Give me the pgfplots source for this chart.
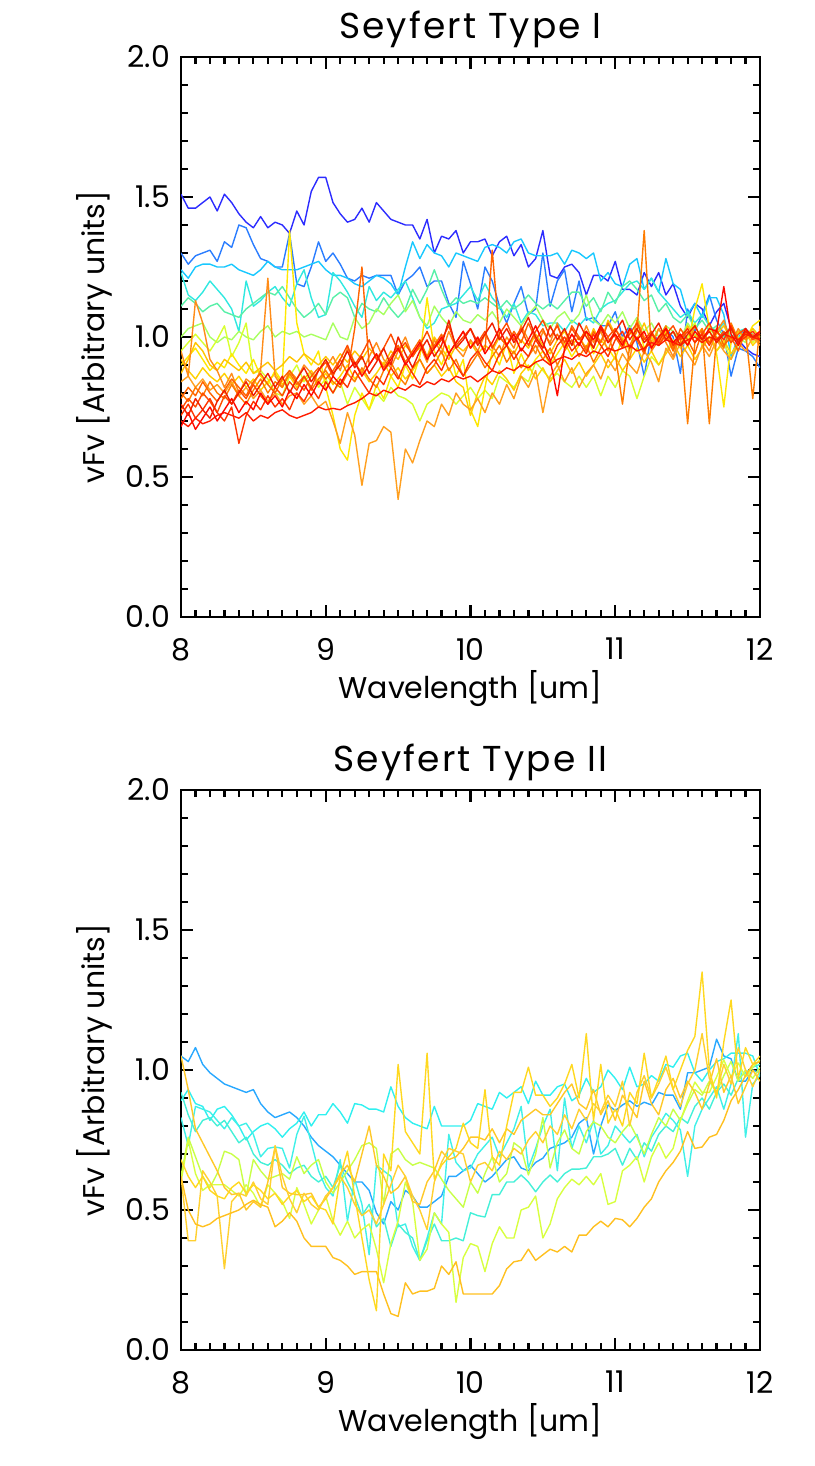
\documentclass[border=0pt]{standalone}
\usepackage{fontspec}
\setmainfont{Poppins}
\newfontfamily\titlefont[LetterSpace=6]{Poppins}
\usepackage{pgfplots}
\pgfplotsset{compat=1.18}
\definecolor{ta}{HTML}{2C2CFF}
\definecolor{tb}{HTML}{2A7DFF}
\definecolor{tc}{HTML}{18C8FF}
\definecolor{td}{HTML}{30E8E0}
\definecolor{te}{HTML}{58F0A8}
\definecolor{tf}{HTML}{A8FF60}
\definecolor{tg}{HTML}{D8FF30}
\definecolor{th}{HTML}{FFE800}
\definecolor{ti}{HTML}{FFC400}
\definecolor{tj}{HTML}{FFA020}
\definecolor{tk}{HTML}{FF8C18}
\definecolor{tl}{HTML}{FF7C00}
\definecolor{tm}{HTML}{FF6400}
\definecolor{tn}{HTML}{FF4C00}
\definecolor{to}{HTML}{FF3400}
\definecolor{tp}{HTML}{FF1C00}
\definecolor{tq}{HTML}{FF0800}
\definecolor{tr}{HTML}{F02000}
\definecolor{ts}{HTML}{FFD000}
\definecolor{ba}{HTML}{28A8FF}
\definecolor{bb}{HTML}{30F0F0}
\definecolor{bc}{HTML}{40F0E8}
\definecolor{bd}{HTML}{44F0D8}
\definecolor{be}{HTML}{C8FF48}
\definecolor{bf}{HTML}{D8FF40}
\definecolor{ga}{HTML}{FFC828}
\definecolor{gb}{HTML}{FFD030}
\definecolor{gc}{HTML}{FFC020}
\definecolor{gd}{HTML}{FFD820}
\pgfplotsset{seyf/.style={
  scale only axis, width=289.5pt, height=280pt,
  xmin=8, xmax=12, ymin=0, ymax=2,
  xtick={8,9,10,11,12}, ytick={0,0.5,1,1.5,2},
  yticklabels={0.0,0.5,1.0,1.5,2.0},
  minor x tick num=9, minor y tick num=4,
  tick align=inside,
  major tick length=6pt, minor tick length=3.5pt,
  every tick/.style={black, line width=1.1pt},
  axis line style={line width=1.3pt},
  /pgf/number format/assume math mode=true,
  tick label style={font=\fontsize{15}{17}\selectfont},
  xticklabel style={yshift=-7pt},
  yticklabel style={xshift=-2pt},
  label style={font=\fontsize{15}{17}\selectfont},
  xlabel style={yshift=2pt},
  title style={font=\titlefont\fontsize{18}{20}\selectfont, yshift=-5pt},
  xlabel={Wavelength [um]},
  ylabel={vFv [Arbitrary units]},
  every axis plot/.append style={line width=0.7pt, line join=round},
  anchor=south west,
}}
\begin{document}
\begin{tikzpicture}
\path[use as bounding box] (0,0) rectangle (407pt,733pt);
\begin{axis}[seyf, at={(90.5pt,424.5pt)}, title={Seyfert Type I}]
\addplot[ta] coordinates {(8,1.51)(8.05,1.46)(8.1,1.46)(8.15,1.48)(8.2,1.50)(8.25,1.45)(8.3,1.51)(8.35,1.48)(8.4,1.44)(8.45,1.41)
(8.5,1.39)(8.55,1.43)(8.6,1.39)(8.65,1.41)(8.7,1.40)(8.75,1.37)(8.8,1.45)(8.85,1.40)(8.9,1.52)(8.95,1.57)
(9,1.57)(9.05,1.48)(9.1,1.44)(9.15,1.41)(9.2,1.42)(9.25,1.46)(9.3,1.41)(9.35,1.48)(9.4,1.45)(9.45,1.42)
(9.5,1.41)(9.55,1.40)(9.6,1.40)(9.65,1.35)(9.7,1.42)(9.75,1.30)(9.8,1.36)(9.85,1.35)(9.9,1.38)(9.95,1.30)
(10,1.34)(10.05,1.34)(10.1,1.35)(10.15,1.29)(10.2,1.34)(10.25,1.36)(10.3,1.29)(10.35,1.33)(10.4,1.25)(10.45,1.28)
(10.5,1.38)(10.55,1.22)(10.6,1.21)(10.65,1.25)(10.7,1.26)(10.75,1.23)(10.8,1.15)(10.85,1.22)(10.9,1.22)(10.95,1.20)
(11,1.27)(11.05,1.17)(11.1,1.17)(11.15,1.15)(11.2,1.23)(11.25,1.18)(11.3,1.23)(11.35,1.15)(11.4,1.19)(11.45,1.11)
(11.5,1.07)(11.55,1.12)(11.6,1.10)(11.65,1.04)(11.7,1.09)(11.75,1.12)(11.8,1.03)(11.85,0.99)(11.9,0.96)(11.95,0.94)(12,0.93)};
\addplot[tb] coordinates {(8,1.30)(8.05,1.26)(8.1,1.29)(8.15,1.30)(8.2,1.31)(8.25,1.27)(8.3,1.34)(8.35,1.32)(8.4,1.40)(8.45,1.39)
(8.5,1.33)(8.55,1.28)(8.6,1.27)(8.65,1.25)(8.7,1.25)(8.75,1.37)(8.8,1.19)(8.85,1.18)(8.9,1.25)(8.95,1.34)
(9,1.27)(9.05,1.30)(9.1,1.26)(9.15,1.21)(9.2,1.20)(9.25,1.22)(9.3,1.21)(9.35,1.22)(9.4,1.22)(9.45,1.22)
(9.5,1.15)(9.55,1.20)(9.6,1.22)(9.65,1.25)(9.7,1.18)(9.75,1.20)(9.8,1.20)(9.85,1.12)(9.9,1.07)(9.95,1.27)
(10,1.19)(10.05,1.10)(10.1,1.25)(10.15,1.20)(10.2,1.11)(10.25,1.05)(10.3,1.12)(10.35,1.18)(10.4,1.08)(10.45,1.10)
(10.5,1.30)(10.55,1.11)(10.6,1.20)(10.65,1.24)(10.7,1.09)(10.75,1.20)(10.8,1.06)(10.85,1.07)(10.9,1.04)(10.95,1.04)
(11,1.09)(11.05,1.00)(11.1,1.04)(11.15,0.98)(11.2,0.86)(11.25,1.01)(11.3,0.99)(11.35,1.03)(11.4,1.00)(11.45,0.87)
(11.5,1.10)(11.55,1.02)(11.6,1.08)(11.65,1.15)(11.7,1.06)(11.75,1.01)(11.8,0.86)(11.85,0.96)(11.9,0.95)(11.95,0.93)(12,0.89)};
\addplot[tc] coordinates {(8,1.24)(8.05,1.21)(8.1,1.25)(8.15,1.26)(8.2,1.26)(8.25,1.25)(8.3,1.25)(8.35,1.26)(8.4,1.24)(8.45,1.23)
(8.5,1.22)(8.55,1.24)(8.6,1.27)(8.65,1.25)(8.7,1.24)(8.75,1.24)(8.8,1.24)(8.85,1.25)(8.9,1.26)(8.95,1.27)
(9,1.24)(9.05,1.22)(9.1,1.22)(9.15,1.21)(9.2,1.19)(9.25,1.18)(9.3,1.20)(9.35,1.22)(9.4,1.21)(9.45,1.19)
(9.5,1.15)(9.55,1.25)(9.6,1.34)(9.65,1.28)(9.7,1.33)(9.75,1.30)(9.8,1.29)(9.85,1.25)(9.9,1.30)(9.95,1.29)
(10,1.28)(10.05,1.27)(10.1,1.32)(10.15,1.33)(10.2,1.32)(10.25,1.30)(10.3,1.34)(10.35,1.35)(10.4,1.30)(10.45,1.29)
(10.5,1.29)(10.55,1.29)(10.6,1.30)(10.65,1.26)(10.7,1.31)(10.75,1.30)(10.8,1.28)(10.85,1.30)(10.9,1.20)(10.95,1.23)
(11,1.19)(11.05,1.18)(11.1,1.26)(11.15,1.28)(11.2,1.17)(11.25,1.21)(11.3,1.16)(11.35,1.28)(11.4,1.19)(11.45,1.17)
(11.5,1.08)(11.55,1.12)(11.6,1.07)(11.65,1.14)(11.7,1.14)(11.75,1.08)(11.8,0.93)(11.85,1.00)(11.9,1.03)(11.95,1.00)(12,0.98)};
\addplot[td] coordinates {(8,1.23)(8.05,1.15)(8.1,1.13)(8.15,1.16)(8.2,1.20)(8.25,1.17)(8.3,1.14)(8.35,1.10)(8.4,1.02)(8.45,1.20)
(8.5,1.11)(8.55,1.13)(8.6,1.16)(8.65,1.18)(8.7,1.14)(8.75,1.11)(8.8,1.19)(8.85,1.24)(8.9,1.14)(8.95,1.07)
(9,1.08)(9.05,1.23)(9.1,1.20)(9.15,1.16)(9.2,1.11)(9.25,1.07)(9.3,1.18)(9.35,1.13)(9.4,1.16)(9.45,1.14)
(9.5,1.17)(9.55,1.20)(9.6,1.14)(9.65,1.07)(9.7,1.03)(9.75,1.05)(9.8,1.10)(9.85,1.11)(9.9,1.12)(9.95,1.15)
(10,1.18)(10.05,1.13)(10.1,1.19)(10.15,1.14)(10.2,1.11)(10.25,1.07)(10.3,1.12)(10.35,1.05)(10.4,1.09)(10.45,1.08)
(10.5,1.04)(10.55,1.05)(10.6,1.05)(10.65,1.02)(10.7,1.06)(10.75,1.04)(10.8,1.07)(10.85,1.05)(10.9,1.10)(10.95,1.12)
(11,1.13)(11.05,1.16)(11.1,1.19)(11.15,1.20)(11.2,1.17)(11.25,1.21)(11.3,1.16)(11.35,1.13)(11.4,1.10)(11.45,1.07)
(11.5,1.09)(11.55,1.05)(11.6,1.08)(11.65,1.04)(11.7,1.02)(11.75,1.05)(11.8,1.00)(11.85,1.02)(11.9,1.03)(11.95,1.00)(12,1.00)};
\addplot[te] coordinates {(8,1.11)(8.05,1.14)(8.1,1.12)(8.15,1.09)(8.2,1.11)(8.25,1.12)(8.3,1.09)(8.35,1.08)(8.4,1.07)(8.45,1.10)
(8.5,1.12)(8.55,1.14)(8.6,1.16)(8.65,1.15)(8.7,1.18)(8.75,1.14)(8.8,1.10)(8.85,1.07)(8.9,1.09)(8.95,1.12)
(9,1.08)(9.05,1.14)(9.1,1.16)(9.15,1.14)(9.2,1.07)(9.25,1.12)(9.3,1.10)(9.35,1.09)(9.4,1.14)(9.45,1.10)
(9.5,1.07)(9.55,1.10)(9.6,1.17)(9.65,1.12)(9.7,1.17)(9.75,1.24)(9.8,1.17)(9.85,1.11)(9.9,1.14)(9.95,1.12)
(10,1.13)(10.05,1.12)(10.1,1.14)(10.15,1.12)(10.2,1.10)(10.25,1.13)(10.3,1.10)(10.35,1.12)(10.4,1.15)(10.45,1.12)
(10.5,1.10)(10.55,1.12)(10.6,1.10)(10.65,1.13)(10.7,1.16)(10.75,1.16)(10.8,1.11)(10.85,1.14)(10.9,1.09)(10.95,1.16)
(11,1.12)(11.05,1.18)(11.1,1.20)(11.15,1.17)(11.2,1.13)(11.25,1.15)(11.3,1.09)(11.35,1.12)(11.4,1.07)(11.45,1.05)
(11.5,1.08)(11.55,1.03)(11.6,1.06)(11.65,1.02)(11.7,1.04)(11.75,1.00)(11.8,1.03)(11.85,0.99)(11.9,1.02)(11.95,1.01)(12,0.99)};
\addplot[tf] coordinates {(8,1.00)(8.05,1.03)(8.1,1.04)(8.15,1.05)(8.2,1.00)(8.25,0.98)(8.3,1.00)(8.35,0.99)(8.4,1.02)(8.45,1.00)
(8.5,0.99)(8.55,1.02)(8.6,1.04)(8.65,1.00)(8.7,1.02)(8.75,1.01)(8.8,1.02)(8.85,1.00)(8.9,1.01)(8.95,1.00)
(9,0.99)(9.05,1.05)(9.1,1.00)(9.15,0.99)(9.2,1.07)(9.25,1.03)(9.3,1.05)(9.35,1.10)(9.4,1.08)(9.45,1.12)
(9.5,1.15)(9.55,1.09)(9.6,1.13)(9.65,1.07)(9.7,1.04)(9.75,1.11)(9.8,1.07)(9.85,1.04)(9.9,1.09)(9.95,1.06)
(10,1.05)(10.05,1.08)(10.1,1.06)(10.15,1.09)(10.2,1.05)(10.25,1.10)(10.3,1.07)(10.35,1.04)(10.4,1.08)(10.45,1.11)
(10.5,1.06)(10.55,1.03)(10.6,1.07)(10.65,1.09)(10.7,1.05)(10.75,1.08)(10.8,1.15)(10.85,1.06)(10.9,1.04)(10.95,1.08)
(11,1.05)(11.05,1.09)(11.1,1.03)(11.15,1.07)(11.2,1.02)(11.25,1.05)(11.3,1.00)(11.35,1.04)(11.4,1.02)(11.45,0.99)
(11.5,1.05)(11.55,1.01)(11.6,0.98)(11.65,1.03)(11.7,1.00)(11.75,0.97)(11.8,1.02)(11.85,1.00)(11.9,0.98)(11.95,1.03)(12,1.00)};
\addplot[tg] coordinates {(8,0.95)(8.05,0.98)(8.1,1.01)(8.15,0.98)(8.2,0.95)(8.25,0.99)(8.3,1.04)(8.35,0.93)(8.4,0.98)(8.45,1.05)
(8.5,0.87)(8.55,0.88)(8.6,0.85)(8.65,0.80)(8.7,0.79)(8.75,0.86)(8.8,0.90)(8.85,0.84)(8.9,0.87)(8.95,0.82)
(9,0.85)(9.05,0.80)(9.1,0.84)(9.15,0.76)(9.2,0.82)(9.25,0.78)(9.3,0.74)(9.35,0.80)(9.4,0.77)(9.45,0.82)
(9.5,0.79)(9.55,0.78)(9.6,0.76)(9.65,0.70)(9.7,0.76)(9.75,0.78)(9.8,0.80)(9.85,0.79)(9.9,0.76)(9.95,0.79)
(10,0.82)(10.05,0.78)(10.1,0.81)(10.15,0.78)(10.2,0.86)(10.25,0.84)(10.3,0.82)(10.35,0.86)(10.4,0.84)(10.45,0.91)
(10.5,0.88)(10.55,0.85)(10.6,0.87)(10.65,0.84)(10.7,0.82)(10.75,0.86)(10.8,0.82)(10.85,0.86)(10.9,0.79)(10.95,0.86)
(11,0.82)(11.05,0.88)(11.1,0.86)(11.15,0.78)(11.2,0.86)(11.25,0.93)(11.3,0.90)(11.35,0.95)(11.4,0.99)(11.45,0.96)
(11.5,1.00)(11.55,1.05)(11.6,0.97)(11.65,1.00)(11.7,0.95)(11.75,0.98)(11.8,0.92)(11.85,0.97)(11.9,1.01)(11.95,0.98)(12,1.01)};
\addplot[th] coordinates {(8,0.90)(8.05,0.93)(8.1,0.96)(8.15,0.92)(8.2,0.88)(8.25,0.91)(8.3,0.89)(8.35,0.94)(8.4,0.90)(8.45,0.87)
(8.5,0.92)(8.55,0.86)(8.6,0.83)(8.65,0.88)(8.7,0.84)(8.75,1.38)(8.8,1.05)(8.85,0.94)(8.9,0.90)(8.95,0.95)
(9,0.82)(9.05,0.72)(9.1,0.60)(9.15,0.56)(9.2,0.72)(9.25,0.80)(9.3,0.74)(9.35,0.83)(9.4,0.78)(9.45,0.86)
(9.5,0.82)(9.55,0.90)(9.6,0.85)(9.65,0.93)(9.7,1.14)(9.75,0.95)(9.8,0.90)(9.85,0.97)(9.9,0.86)(9.95,0.92)
(10,0.74)(10.05,0.68)(10.1,0.82)(10.15,0.95)(10.2,0.90)(10.25,0.98)(10.3,0.87)(10.35,0.94)(10.4,0.88)(10.45,0.92)
(10.5,0.95)(10.55,0.90)(10.6,0.94)(10.65,0.98)(10.7,0.93)(10.75,0.97)(10.8,1.02)(10.85,0.94)(10.9,0.99)(10.95,0.96)
(11,0.92)(11.05,1.00)(11.1,0.95)(11.15,1.06)(11.2,0.96)(11.25,1.00)(11.3,0.97)(11.35,1.02)(11.4,0.95)(11.45,1.00)
(11.5,0.97)(11.55,1.10)(11.6,1.19)(11.65,1.03)(11.7,0.94)(11.75,0.75)(11.8,0.98)(11.85,1.02)(11.9,0.99)(11.95,1.04)(12,1.06)};
\addplot[ts] coordinates {(8,0.92)(8.05,0.88)(8.1,0.85)(8.15,0.89)(8.2,0.86)(8.25,0.84)(8.3,0.87)(8.35,0.83)(8.4,0.86)(8.45,0.82)
(8.5,0.85)(8.55,0.81)(8.6,0.84)(8.65,0.87)(8.7,0.83)(8.75,0.86)(8.8,0.82)(8.85,0.85)(8.9,0.88)(8.95,0.84)
(9,0.87)(9.05,0.83)(9.1,0.86)(9.15,0.90)(9.2,0.85)(9.25,0.88)(9.3,0.84)(9.35,0.87)(9.4,0.91)(9.45,0.86)
(9.5,0.89)(9.55,0.85)(9.6,0.88)(9.65,0.92)(9.7,0.87)(9.75,0.90)(9.8,0.86)(9.85,0.89)(9.9,0.84)(9.95,0.82)
(10,0.72)(10.05,0.80)(10.1,0.86)(10.15,0.83)(10.2,0.88)(10.25,0.85)(10.3,0.81)(10.35,0.87)(10.4,0.90)(10.45,0.85)
(10.5,0.89)(10.55,0.84)(10.6,0.88)(10.65,0.92)(10.7,0.87)(10.75,0.91)(10.8,0.86)(10.85,0.90)(10.9,0.94)(10.95,0.89)
(11,0.93)(11.05,0.88)(11.1,0.92)(11.15,0.96)(11.2,0.91)(11.25,0.95)(11.3,0.90)(11.35,0.94)(11.4,0.98)(11.45,0.93)
(11.5,0.97)(11.55,0.92)(11.6,0.96)(11.65,1.00)(11.7,0.95)(11.75,0.99)(11.8,0.94)(11.85,0.98)(11.9,1.02)(11.95,0.97)(12,1.00)};
\addplot[ti] coordinates {(8,0.87)(8.05,0.92)(8.1,0.98)(8.15,0.95)(8.2,0.90)(8.25,0.88)(8.3,0.92)(8.35,0.90)(8.4,0.88)(8.45,0.91)
(8.5,0.87)(8.55,0.89)(8.6,0.91)(8.65,0.88)(8.7,0.90)(8.75,0.93)(8.8,0.91)(8.85,0.94)(8.9,0.92)(8.95,0.90)
(9,0.93)(9.05,0.90)(9.1,0.94)(9.15,0.91)(9.2,0.95)(9.25,0.92)(9.3,0.96)(9.35,0.93)(9.4,0.90)(9.45,0.95)
(9.5,0.92)(9.55,0.97)(9.6,0.94)(9.65,0.96)(9.7,0.93)(9.75,1.00)(9.8,0.96)(9.85,0.92)(9.9,0.97)(9.95,0.95)
(10,0.98)(10.05,0.94)(10.1,0.97)(10.15,0.95)(10.2,1.00)(10.25,0.97)(10.3,0.94)(10.35,0.99)(10.4,0.96)(10.45,1.01)
(10.5,0.97)(10.55,0.94)(10.6,0.99)(10.65,1.02)(10.7,0.97)(10.75,1.00)(10.8,0.96)(10.85,1.03)(10.9,0.98)(10.95,1.06)
(11,1.01)(11.05,0.97)(11.1,1.02)(11.15,0.99)(11.2,1.05)(11.25,0.98)(11.3,1.03)(11.35,0.99)(11.4,1.02)(11.45,0.97)
(11.5,1.04)(11.55,1.00)(11.6,1.03)(11.65,0.98)(11.7,1.01)(11.75,1.04)(11.8,0.99)(11.85,1.02)(11.9,1.00)(11.95,1.03)(12,1.00)};
\addplot[tj] coordinates {(8,0.84)(8.05,0.86)(8.1,0.82)(8.15,0.85)(8.2,0.81)(8.25,0.83)(8.3,0.80)(8.35,0.84)(8.4,0.79)(8.45,0.82)
(8.5,0.78)(8.55,0.81)(8.6,0.77)(8.65,0.80)(8.7,0.76)(8.75,0.79)(8.8,0.80)(8.85,0.76)(8.9,0.79)(8.95,0.75)
(9,0.77)(9.05,0.70)(9.1,0.62)(9.15,0.73)(9.2,0.65)(9.25,0.47)(9.3,0.62)(9.35,0.63)(9.4,0.68)(9.45,0.66)
(9.5,0.42)(9.55,0.60)(9.6,0.55)(9.65,0.63)(9.7,0.70)(9.75,0.68)(9.8,0.76)(9.85,0.72)(9.9,0.80)(9.95,0.76)
(10,0.74)(10.05,0.78)(10.1,0.73)(10.15,0.80)(10.2,0.76)(10.25,0.83)(10.3,0.78)(10.35,0.86)(10.4,0.82)(10.45,0.88)
(10.5,0.73)(10.55,0.86)(10.6,0.90)(10.65,0.84)(10.7,0.89)(10.75,0.82)(10.8,0.87)(10.85,0.90)(10.9,0.85)(10.95,0.92)
(11,0.88)(11.05,0.94)(11.1,0.90)(11.15,0.87)(11.2,0.95)(11.25,0.91)(11.3,0.84)(11.35,0.96)(11.4,0.92)(11.45,0.98)
(11.5,0.94)(11.55,0.90)(11.6,0.97)(11.65,0.93)(11.7,0.99)(11.75,0.95)(11.8,0.92)(11.85,0.98)(11.9,0.95)(11.95,1.00)(12,0.97)};
\addplot[tk] coordinates {(8,0.95)(8.05,0.86)(8.1,1.13)(8.15,1.05)(8.2,0.92)(8.25,0.88)(8.3,0.82)(8.35,0.87)(8.4,0.80)(8.45,0.85)
(8.5,0.83)(8.55,0.88)(8.6,1.21)(8.65,0.86)(8.7,0.82)(8.75,0.88)(8.8,0.85)(8.85,0.90)(8.9,0.87)(8.95,0.83)
(9,0.89)(9.05,0.93)(9.1,0.88)(9.15,0.96)(9.2,0.91)(9.25,0.87)(9.3,0.93)(9.35,0.98)(9.4,0.92)(9.45,0.89)
(9.5,0.95)(9.55,1.00)(9.6,0.93)(9.65,0.97)(9.7,0.91)(9.75,0.99)(9.8,0.94)(9.85,1.02)(9.9,0.96)(9.95,0.93)
(10,0.99)(10.05,0.95)(10.1,1.01)(10.15,0.97)(10.2,0.93)(10.25,1.00)(10.3,0.96)(10.35,1.04)(10.4,0.99)(10.45,0.94)
(10.5,1.02)(10.55,0.98)(10.6,1.05)(10.65,0.96)(10.7,1.01)(10.75,0.97)(10.8,1.04)(10.85,0.98)(10.9,1.02)(10.95,0.95)
(11,1.03)(11.05,0.99)(11.1,0.92)(11.15,1.06)(11.2,1.00)(11.25,0.96)(11.3,1.03)(11.35,0.98)(11.4,0.93)(11.45,1.01)
(11.5,0.97)(11.55,1.04)(11.6,0.99)(11.65,0.95)(11.7,1.02)(11.75,1.06)(11.8,0.98)(11.85,1.03)(11.9,0.99)(11.95,1.01)(12,0.98)};
\addplot[tl] coordinates {(8,0.80)(8.05,0.77)(8.1,0.82)(8.15,0.79)(8.2,0.84)(8.25,0.80)(8.3,0.78)(8.35,0.83)(8.4,0.79)(8.45,0.76)
(8.5,0.81)(8.55,0.85)(8.6,0.80)(8.65,0.84)(8.7,0.82)(8.75,0.87)(8.8,0.83)(8.85,0.86)(8.9,0.81)(8.95,0.85)
(9,0.88)(9.05,0.84)(9.1,0.82)(9.15,0.87)(9.2,0.84)(9.25,0.89)(9.3,0.85)(9.35,0.82)(9.4,0.88)(9.45,0.91)
(9.5,0.86)(9.55,0.83)(9.6,0.89)(9.65,0.92)(9.7,0.87)(9.75,0.90)(9.8,0.95)(9.85,0.88)(9.9,0.92)(9.95,0.86)
(10,0.90)(10.05,0.94)(10.1,0.89)(10.15,0.93)(10.2,0.97)(10.25,0.91)(10.3,0.95)(10.35,0.89)(10.4,0.93)(10.45,0.97)
(10.5,0.92)(10.55,0.96)(10.6,0.90)(10.65,0.95)(10.7,0.99)(10.75,0.93)(10.8,0.97)(10.85,0.91)(10.9,0.96)(10.95,1.00)
(11,0.94)(11.05,0.76)(11.1,0.97)(11.15,1.02)(11.2,1.38)(11.25,0.95)(11.3,0.99)(11.35,1.04)(11.4,0.96)(11.45,1.00)
(11.5,0.69)(11.55,0.98)(11.6,1.03)(11.65,0.69)(11.7,1.00)(11.75,0.96)(11.8,1.05)(11.85,0.99)(11.9,1.02)(11.95,0.78)(12,1.04)};
\addplot[tm] coordinates {(8,0.78)(8.05,0.82)(8.1,0.79)(8.15,0.84)(8.2,0.80)(8.25,0.77)(8.3,0.81)(8.35,0.85)(8.4,0.82)(8.45,0.79)
(8.5,0.84)(8.55,0.87)(8.6,0.83)(8.65,0.80)(8.7,0.85)(8.75,0.88)(8.8,0.84)(8.85,0.81)(8.9,0.86)(8.95,0.89)
(9,0.85)(9.05,0.88)(9.1,0.92)(9.15,0.87)(9.2,1.03)(9.25,1.25)(9.3,0.90)(9.35,0.94)(9.4,0.89)(9.45,0.93)
(9.5,0.97)(9.55,0.91)(9.6,0.95)(9.65,0.99)(9.7,0.93)(9.75,0.97)(9.8,1.01)(9.85,0.94)(9.9,0.98)(9.95,1.02)
(10,0.96)(10.05,0.99)(10.1,0.95)(10.15,1.31)(10.2,1.00)(10.25,0.97)(10.3,1.02)(10.35,0.98)(10.4,1.05)(10.45,0.99)
(10.5,1.03)(10.55,0.97)(10.6,1.01)(10.65,0.96)(10.7,1.04)(10.75,1.00)(10.8,0.95)(10.85,1.02)(10.9,0.98)(10.95,1.05)
(11,1.00)(11.05,0.96)(11.1,1.03)(11.15,0.99)(11.2,0.94)(11.25,1.02)(11.3,0.97)(11.35,1.01)(11.4,0.95)(11.45,1.03)
(11.5,0.99)(11.55,0.94)(11.6,1.02)(11.65,0.98)(11.7,1.03)(11.75,0.97)(11.8,1.00)(11.85,0.95)(11.9,1.02)(11.95,0.99)(12,1.01)};
\addplot[tn] coordinates {(8,0.74)(8.05,0.78)(8.1,0.75)(8.15,0.80)(8.2,0.77)(8.25,0.73)(8.3,0.79)(8.35,0.76)(8.4,0.81)(8.45,0.78)
(8.5,0.83)(8.55,0.79)(8.6,0.76)(8.65,0.82)(8.7,0.79)(8.75,0.84)(8.8,0.81)(8.85,0.86)(8.9,0.82)(8.95,0.88)
(9,0.91)(9.05,0.86)(9.1,0.92)(9.15,0.97)(9.2,0.90)(9.25,0.94)(9.3,0.99)(9.35,0.92)(9.4,0.96)(9.45,1.01)
(9.5,0.95)(9.55,0.98)(9.6,0.93)(9.65,0.97)(9.7,1.02)(9.75,0.96)(9.8,0.99)(9.85,1.04)(9.9,0.97)(9.95,1.00)
(10,1.03)(10.05,0.98)(10.1,1.02)(10.15,0.96)(10.2,1.01)(10.25,1.05)(10.3,0.99)(10.35,1.03)(10.4,0.97)(10.45,1.02)
(10.5,1.06)(10.55,1.00)(10.6,1.04)(10.65,0.98)(10.7,1.03)(10.75,0.99)(10.8,1.02)(10.85,0.96)(10.9,1.04)(10.95,1.00)
(11,1.03)(11.05,0.98)(11.1,1.01)(11.15,1.05)(11.2,0.99)(11.25,1.02)(11.3,0.97)(11.35,1.01)(11.4,1.04)(11.45,0.99)
(11.5,1.02)(11.55,0.98)(11.6,1.01)(11.65,1.05)(11.7,0.99)(11.75,1.02)(11.8,0.98)(11.85,1.01)(11.9,1.03)(11.95,0.99)(12,1.02)};
\addplot[to] coordinates {(8,0.72)(8.05,0.76)(8.1,0.71)(8.15,0.74)(8.2,0.78)(8.25,0.73)(8.3,0.70)(8.35,0.75)(8.4,0.62)(8.45,0.72)
(8.5,0.77)(8.55,0.74)(8.6,0.79)(8.65,0.75)(8.7,0.78)(8.75,0.74)(8.8,0.80)(8.85,0.77)(8.9,0.82)(8.95,0.78)
(9,0.84)(9.05,0.80)(9.1,0.85)(9.15,0.82)(9.2,0.88)(9.25,0.84)(9.3,0.80)(9.35,0.86)(9.4,0.83)(9.45,0.89)
(9.5,0.85)(9.55,0.91)(9.6,0.87)(9.65,0.83)(9.7,0.89)(9.75,0.92)(9.8,0.88)(9.85,0.94)(9.9,0.90)(9.95,0.86)
(10,0.92)(10.05,0.95)(10.1,0.91)(10.15,0.88)(10.2,0.94)(10.25,0.97)(10.3,0.92)(10.35,0.96)(10.4,0.93)(10.45,0.99)
(10.5,0.95)(10.55,0.91)(10.6,0.97)(10.65,1.00)(10.7,0.95)(10.75,0.98)(10.8,0.94)(10.85,1.01)(10.9,0.97)(10.95,0.93)
(11,0.99)(11.05,1.02)(11.1,0.96)(11.15,1.00)(11.2,0.95)(11.25,1.01)(11.3,0.98)(11.35,1.03)(11.4,0.97)(11.45,1.00)
(11.5,1.03)(11.55,0.98)(11.6,1.01)(11.65,0.97)(11.7,1.02)(11.75,0.99)(11.8,1.04)(11.85,0.98)(11.9,1.00)(11.95,1.02)(12,0.99)};
\addplot[tp] coordinates {(8,0.70)(8.05,0.68)(8.1,0.71)(8.15,0.69)(8.2,0.70)(8.25,0.72)(8.3,0.73)(8.35,0.72)(8.4,0.71)(8.45,0.73)
(8.5,0.70)(8.55,0.72)(8.6,0.71)(8.65,0.73)(8.7,0.74)(8.75,0.72)(8.8,0.71)(8.85,0.72)(8.9,0.73)(8.95,0.75)
(9,0.74)(9.05,0.745)(9.1,0.74)(9.15,0.755)(9.2,0.765)(9.25,0.78)(9.3,0.80)(9.35,0.79)(9.4,0.81)(9.45,0.80)
(9.5,0.82)(9.55,0.81)(9.6,0.83)(9.65,0.82)(9.7,0.84)(9.75,0.83)(9.8,0.85)(9.85,0.84)(9.9,0.86)(9.95,0.85)
(10,0.86)(10.05,0.84)(10.1,0.86)(10.15,0.88)(10.2,0.87)(10.25,0.89)(10.3,0.88)(10.35,0.90)(10.4,0.89)(10.45,0.91)
(10.5,0.92)(10.55,0.90)(10.6,0.92)(10.65,0.93)(10.7,0.92)(10.75,0.94)(10.8,0.93)(10.85,0.95)(10.9,0.94)(10.95,0.96)
(11,0.95)(11.05,0.96)(11.1,0.97)(11.15,0.95)(11.2,0.96)(11.25,0.98)(11.3,0.97)(11.35,0.99)(11.4,0.98)(11.45,0.97)
(11.5,0.99)(11.55,1.00)(11.6,0.98)(11.65,1.00)(11.7,0.99)(11.75,1.01)(11.8,1.00)(11.85,0.99)(11.9,1.01)(11.95,1.00)(12,0.99)};
\addplot[tq] coordinates {(8,0.68)(8.05,0.73)(8.1,0.67)(8.15,0.71)(8.2,0.75)(8.25,0.70)(8.3,0.74)(8.35,0.78)(8.4,0.73)(8.45,0.77)
(8.5,0.74)(8.55,0.80)(8.6,0.76)(8.65,0.79)(8.7,0.75)(8.75,0.81)(8.8,0.78)(8.85,0.83)(8.9,0.79)(8.95,0.84)
(9,0.81)(9.05,0.86)(9.1,0.83)(9.15,0.88)(9.2,0.91)(9.25,0.86)(9.3,0.90)(9.35,0.94)(9.4,0.88)(9.45,0.92)
(9.5,0.96)(9.55,0.90)(9.6,0.94)(9.65,0.98)(9.7,0.92)(9.75,0.96)(9.8,1.00)(9.85,0.94)(9.9,0.98)(9.95,1.02)
(10,0.96)(10.05,1.00)(10.1,0.94)(10.15,0.98)(10.2,1.03)(10.25,0.97)(10.3,1.01)(10.35,0.95)(10.4,0.99)(10.45,1.04)
(10.5,0.98)(10.55,0.92)(10.6,0.79)(10.65,0.96)(10.7,1.01)(10.75,0.97)(10.8,1.02)(10.85,0.99)(10.9,1.04)(10.95,0.98)
(11,1.01)(11.05,0.97)(11.1,1.03)(11.15,0.99)(11.2,1.02)(11.25,0.96)(11.3,1.00)(11.35,1.03)(11.4,0.98)(11.45,1.01)
(11.5,0.97)(11.55,1.02)(11.6,0.99)(11.65,1.03)(11.7,1.02)(11.75,1.18)(11.8,1.01)(11.85,0.97)(11.9,1.03)(11.95,1.00)(12,1.02)};
\addplot[tr] coordinates {(8,0.76)(8.05,0.72)(8.1,0.78)(8.15,0.74)(8.2,0.71)(8.25,0.77)(8.3,0.81)(8.35,0.76)(8.4,0.80)(8.45,0.84)
(8.5,0.79)(8.55,0.83)(8.6,0.87)(8.65,0.82)(8.7,0.86)(8.75,0.80)(8.8,0.85)(8.85,0.89)(8.9,0.84)(8.95,0.88)
(9,0.92)(9.05,0.87)(9.1,0.90)(9.15,0.95)(9.2,0.89)(9.25,0.93)(9.3,0.87)(9.35,0.91)(9.4,0.96)(9.45,0.90)
(9.5,1.00)(9.55,0.94)(9.6,0.89)(9.65,0.95)(9.7,0.99)(9.75,0.93)(9.8,0.97)(9.85,1.06)(9.9,0.96)(9.95,0.99)
(10,1.03)(10.05,0.97)(10.1,1.01)(10.15,1.05)(10.2,0.99)(10.25,1.03)(10.3,0.98)(10.35,1.02)(10.4,1.07)(10.45,1.00)
(10.5,0.96)(10.55,1.04)(10.6,0.99)(10.65,1.03)(10.7,0.97)(10.75,1.05)(10.8,1.00)(10.85,0.96)(10.9,1.03)(10.95,0.98)
(11,1.02)(11.05,1.06)(11.1,0.99)(11.15,1.03)(11.2,0.98)(11.25,1.01)(11.3,1.05)(11.35,0.99)(11.4,1.02)(11.45,0.97)
(11.5,1.01)(11.55,1.04)(11.6,0.99)(11.65,1.02)(11.7,0.98)(11.75,1.01)(11.8,1.03)(11.85,0.98)(11.9,1.02)(11.95,1.00)(12,1.01)};
\end{axis}
\begin{axis}[seyf, at={(90.5pt,58pt)}, title={Seyfert Type II}]
\addplot[ba] coordinates {(8,1.05)(8.05,1.03)(8.1,1.08)(8.15,1.02)(8.2,0.99)(8.25,0.97)(8.3,0.95)(8.35,0.94)(8.4,0.93)(8.45,0.92)
(8.5,0.93)(8.55,0.88)(8.6,0.85)(8.65,0.83)(8.7,0.84)(8.75,0.85)(8.8,0.83)(8.85,0.80)(8.9,0.76)(8.95,0.73)
(9,0.71)(9.05,0.69)(9.1,0.66)(9.15,0.63)(9.2,0.60)(9.25,0.60)(9.3,0.57)(9.35,0.49)(9.4,0.45)(9.45,0.53)
(9.5,0.50)(9.55,0.57)(9.6,0.55)(9.65,0.51)(9.7,0.51)(9.75,0.53)(9.8,0.55)(9.85,0.62)(9.9,0.62)(9.95,0.64)
(10,0.66)(10.05,0.63)(10.1,0.60)(10.15,0.62)(10.2,0.65)(10.25,0.68)(10.3,0.69)(10.35,0.65)(10.4,0.64)(10.45,0.67)
(10.5,0.685)(10.55,0.72)(10.6,0.73)(10.65,0.74)(10.7,0.76)(10.75,0.81)(10.8,0.83)(10.85,0.70)(10.9,0.80)(10.95,0.875)
(11,0.855)(11.05,0.875)(11.1,0.89)(11.15,0.87)(11.2,0.885)(11.25,0.875)(11.3,0.92)(11.35,0.91)(11.4,0.91)(11.45,0.86)
(11.5,0.99)(11.55,0.99)(11.6,1.00)(11.65,1.01)(11.7,1.11)(11.75,1.05)(11.8,1.04)(11.85,0.96)(11.9,0.96)(11.95,1.00)(12,0.99)};
\addplot[bb] coordinates {(8,0.89)(8.05,0.93)(8.1,0.88)(8.15,0.87)(8.2,0.82)(8.25,0.86)(8.3,0.87)(8.35,0.84)(8.4,0.80)(8.45,0.75)
(8.5,0.78)(8.55,0.80)(8.6,0.81)(8.65,0.79)(8.7,0.76)(8.75,0.79)(8.8,0.81)(8.85,0.85)(8.9,0.80)(8.95,0.84)
(9,0.84)(9.05,0.88)(9.1,0.85)(9.15,0.81)(9.2,0.88)(9.25,0.875)(9.3,0.86)(9.35,0.86)(9.4,0.85)(9.45,0.94)
(9.5,0.87)(9.55,0.83)(9.6,0.81)(9.65,0.80)(9.7,0.79)(9.75,0.87)(9.8,0.80)(9.85,0.80)(9.9,0.80)(9.95,0.80)
(10,0.82)(10.05,0.88)(10.1,0.87)(10.15,0.86)(10.2,0.92)(10.25,0.90)(10.3,0.92)(10.35,0.94)(10.4,0.88)(10.45,0.96)
(10.5,0.91)(10.55,0.91)(10.6,0.94)(10.65,0.95)(10.7,0.89)(10.75,0.91)(10.8,0.97)(10.85,0.92)(10.9,0.94)(10.95,1.00)
(11,0.97)(11.05,0.93)(11.1,1.01)(11.15,0.94)(11.2,0.95)(11.25,0.98)(11.3,0.96)(11.35,1.02)(11.4,1.01)(11.45,1.05)
(11.5,1.06)(11.55,0.99)(11.6,0.96)(11.65,1.00)(11.7,1.03)(11.75,1.04)(11.8,1.06)(11.85,1.06)(11.9,1.06)(11.95,1.05)(12,0.98)};
\addplot[bc] coordinates {(8,0.83)(8.05,0.73)(8.1,0.87)(8.15,0.86)(8.2,0.85)(8.25,0.82)(8.3,0.79)(8.35,0.83)(8.4,0.80)(8.45,0.81)
(8.5,0.77)(8.55,0.69)(8.6,0.72)(8.65,0.725)(8.7,0.72)(8.75,0.65)(8.8,0.77)(8.85,0.835)(8.9,0.74)(8.95,0.64)
(9,0.58)(9.05,0.55)(9.1,0.68)(9.15,0.46)(9.2,0.61)(9.25,0.52)(9.3,0.34)(9.35,0.66)(9.4,0.64)(9.45,0.62)
(9.5,0.44)(9.55,0.45)(9.6,0.37)(9.65,0.32)(9.7,0.40)(9.75,0.49)(9.8,0.45)(9.85,0.77)(9.9,0.67)(9.95,0.64)
(10,0.65)(10.05,0.70)(10.1,0.73)(10.15,0.76)(10.2,0.69)(10.25,0.74)(10.3,0.79)(10.35,0.87)(10.4,0.65)(10.45,0.72)
(10.5,0.80)(10.55,0.86)(10.6,0.64)(10.65,0.90)(10.7,0.72)(10.75,0.80)(10.8,0.74)(10.85,0.82)(10.9,0.70)(10.95,0.73)
(11,0.80)(11.05,0.77)(11.1,0.74)(11.15,0.77)(11.2,0.69)(11.25,0.76)(11.3,0.80)(11.35,0.845)(11.4,0.82)(11.45,0.786)
(11.5,0.62)(11.55,0.80)(11.6,0.86)(11.65,0.90)(11.7,0.94)(11.75,0.86)(11.8,0.95)(11.85,1.13)(11.9,0.76)(11.95,0.95)(12,0.98)};
\addplot[bd] coordinates {(8,0.92)(8.05,0.84)(8.1,0.78)(8.15,0.82)(8.2,0.83)(8.25,0.80)(8.3,0.82)(8.35,0.78)(8.4,0.74)(8.45,0.76)
(8.5,0.70)(8.55,0.67)(8.6,0.66)(8.65,0.68)(8.7,0.66)(8.75,0.63)(8.8,0.65)(8.85,0.66)(8.9,0.62)(8.95,0.60)
(9,0.62)(9.05,0.58)(9.1,0.66)(9.15,0.60)(9.2,0.55)(9.25,0.48)(9.3,0.52)(9.35,0.44)(9.4,0.47)(9.45,0.37)
(9.5,0.45)(9.55,0.42)(9.6,0.40)(9.65,0.32)(9.7,0.39)(9.75,0.45)(9.8,0.39)(9.85,0.39)(9.9,0.40)(9.95,0.39)
(10,0.49)(10.05,0.48)(10.1,0.475)(10.15,0.555)(10.2,0.555)(10.25,0.60)(10.3,0.60)(10.35,0.625)(10.4,0.60)(10.45,0.565)
(10.5,0.60)(10.55,0.625)(10.6,0.60)(10.65,0.63)(10.7,0.646)(10.75,0.646)(10.8,0.65)(10.85,0.69)(10.9,0.69)(10.95,0.70)
(11,0.72)(11.05,0.66)(11.1,0.72)(11.15,0.68)(11.2,0.74)(11.25,0.71)(11.3,0.77)(11.35,0.80)(11.4,0.78)(11.45,0.83)
(11.5,0.81)(11.55,0.87)(11.6,0.90)(11.65,0.86)(11.7,0.92)(11.75,0.95)(11.8,0.91)(11.85,0.97)(11.9,0.99)(11.95,1.01)(12,1.02)};
\addplot[be] coordinates {(8,0.62)(8.05,0.76)(8.1,0.69)(8.15,0.62)(8.2,0.58)(8.25,0.63)(8.3,0.71)(8.35,0.70)(8.4,0.68)(8.45,0.55)
(8.5,0.68)(8.55,0.64)(8.6,0.61)(8.65,0.62)(8.7,0.63)(8.75,0.61)(8.8,0.69)(8.85,0.63)(8.9,0.66)(8.95,0.68)
(9,0.60)(9.05,0.56)(9.1,0.60)(9.15,0.64)(9.2,0.68)(9.25,0.73)(9.3,0.74)(9.35,0.72)(9.4,0.52)(9.45,0.70)
(9.5,0.72)(9.55,0.68)(9.6,0.66)(9.65,0.67)(9.7,0.66)(9.75,0.65)(9.8,0.61)(9.85,0.57)(9.9,0.54)(9.95,0.51)
(10,0.60)(10.05,0.56)(10.1,0.63)(10.15,0.69)(10.2,0.60)(10.25,0.63)(10.3,0.74)(10.35,0.72)(10.4,0.625)(10.45,0.70)
(10.5,0.83)(10.55,0.65)(10.6,0.74)(10.65,0.786)(10.7,0.72)(10.75,0.70)(10.8,0.78)(10.85,0.815)(10.9,0.80)(10.95,0.76)
(11,0.74)(11.05,0.78)(11.1,0.81)(11.15,0.76)(11.2,0.70)(11.25,0.77)(11.3,0.83)(11.35,0.80)(11.4,0.86)(11.45,0.82)
(11.5,0.88)(11.55,0.93)(11.6,0.91)(11.65,0.96)(11.7,0.92)(11.75,0.98)(11.8,1.03)(11.85,0.96)(11.9,1.00)(11.95,0.97)(12,1.01)};
\addplot[bf] coordinates {(8,0.60)(8.05,0.75)(8.1,0.63)(8.15,0.57)(8.2,0.59)(8.25,0.59)(8.3,0.59)(8.35,0.57)(8.4,0.55)(8.45,0.59)
(8.5,0.56)(8.55,0.51)(8.6,0.59)(8.65,0.56)(8.7,0.53)(8.75,0.47)(8.8,0.58)(8.85,0.52)(8.9,0.45)(8.95,0.50)
(9,0.55)(9.05,0.46)(9.1,0.41)(9.15,0.46)(9.2,0.40)(9.25,0.43)(9.3,0.45)(9.35,0.36)(9.4,0.24)(9.45,0.38)
(9.5,0.46)(9.55,0.60)(9.6,0.53)(9.65,0.32)(9.7,0.36)(9.75,0.49)(9.8,0.45)(9.85,0.42)(9.9,0.17)(9.95,0.33)
(10,0.38)(10.05,0.37)(10.1,0.28)(10.15,0.38)(10.2,0.44)(10.25,0.40)(10.3,0.40)(10.35,0.50)(10.4,0.51)(10.45,0.55)
(10.5,0.40)(10.55,0.45)(10.6,0.54)(10.65,0.58)(10.7,0.61)(10.75,0.59)(10.8,0.62)(10.85,0.59)(10.9,0.63)(10.95,0.52)
(11,0.53)(11.05,0.64)(11.1,0.66)(11.15,0.69)(11.2,0.60)(11.25,0.69)(11.3,0.74)(11.35,0.685)(11.4,0.72)(11.45,0.82)
(11.5,0.89)(11.55,0.957)(11.6,0.92)(11.65,0.92)(11.7,0.975)(11.75,1.036)(11.8,0.975)(11.85,1.025)(11.9,0.975)(11.95,1.01)(12,1.036)};
\addplot[ga] coordinates {(8,1.05)(8.05,0.93)(8.1,0.79)(8.15,0.74)(8.2,0.69)(8.25,0.64)(8.3,0.58)(8.35,0.555)(8.4,0.56)(8.45,0.50)
(8.5,0.53)(8.55,0.51)(8.6,0.60)(8.65,0.725)(8.7,0.58)(8.75,0.56)(8.8,0.555)(8.85,0.555)(8.9,0.56)(8.95,0.51)
(9,0.54)(9.05,0.58)(9.1,0.63)(9.15,0.66)(9.2,0.60)(9.25,0.70)(9.3,0.80)(9.35,0.66)(9.4,0.62)(9.45,0.56)
(9.5,0.58)(9.55,0.62)(9.6,0.53)(9.65,0.52)(9.7,0.60)(9.75,0.64)(9.8,0.71)(9.85,0.68)(9.9,0.69)(9.95,0.72)
(10,0.76)(10.05,0.76)(10.1,0.75)(10.15,0.79)(10.2,0.74)(10.25,0.79)(10.3,0.77)(10.35,0.82)(10.4,0.84)(10.45,0.86)
(10.5,0.84)(10.55,0.84)(10.6,0.88)(10.65,0.92)(10.7,0.95)(10.75,0.88)(10.8,0.86)(10.85,0.93)(10.9,0.84)(10.95,0.89)
(11,0.82)(11.05,0.91)(11.1,0.87)(11.15,0.83)(11.2,0.96)(11.25,0.88)(11.3,0.84)(11.35,0.93)(11.4,0.97)(11.45,0.90)
(11.5,0.96)(11.55,0.92)(11.6,0.86)(11.65,0.95)(11.7,1.04)(11.75,0.92)(11.8,0.98)(11.85,0.88)(11.9,0.94)(11.95,1.00)(12,0.96)};
\addplot[gb] coordinates {(8,0.62)(8.05,0.39)(8.1,0.39)(8.15,0.64)(8.2,0.60)(8.25,0.55)(8.3,0.29)(8.35,0.53)(8.4,0.56)(8.45,0.55)
(8.5,0.60)(8.55,0.54)(8.6,0.52)(8.65,0.73)(8.7,0.62)(8.75,0.54)(8.8,0.49)(8.85,0.56)(8.9,0.52)(8.95,0.50)
(9,0.55)(9.05,0.58)(9.1,0.62)(9.15,0.58)(9.2,0.52)(9.25,0.48)(9.3,0.50)(9.35,0.45)(9.4,0.52)(9.45,0.59)
(9.5,0.66)(9.55,0.62)(9.6,0.55)(9.65,0.50)(9.7,0.43)(9.75,0.60)(9.8,0.67)(9.85,0.72)(9.9,0.71)(9.95,0.70)
(10,0.60)(10.05,0.66)(10.1,0.67)(10.15,0.64)(10.2,0.71)(10.25,0.68)(10.3,0.72)(10.35,0.70)(10.4,0.75)(10.45,0.78)
(10.5,0.74)(10.55,0.80)(10.6,0.77)(10.65,0.84)(10.7,0.79)(10.75,0.86)(10.8,0.82)(10.85,0.88)(10.9,0.85)(10.95,0.91)
(11,0.87)(11.05,0.96)(11.1,0.80)(11.15,0.92)(11.2,0.98)(11.25,0.90)(11.3,0.95)(11.35,1.01)(11.4,0.93)(11.45,0.87)
(11.5,0.95)(11.55,1.00)(11.6,1.13)(11.65,0.97)(11.7,0.92)(11.75,1.02)(11.8,0.95)(11.85,1.08)(11.9,1.00)(11.95,0.94)(12,1.00)};
\addplot[gc] coordinates {(8,0.62)(8.05,0.50)(8.1,0.45)(8.15,0.44)(8.2,0.45)(8.25,0.47)(8.3,0.48)(8.35,0.49)(8.4,0.50)(8.45,0.52)
(8.5,0.535)(8.55,0.52)(8.6,0.51)(8.65,0.44)(8.7,0.46)(8.75,0.49)(8.8,0.46)(8.85,0.40)(8.9,0.37)(8.95,0.37)
(9,0.37)(9.05,0.33)(9.1,0.32)(9.15,0.30)(9.2,0.27)(9.25,0.28)(9.3,0.28)(9.35,0.28)(9.4,0.20)(9.45,0.13)
(9.5,0.12)(9.55,0.24)(9.6,0.20)(9.65,0.21)(9.7,0.21)(9.75,0.22)(9.8,0.30)(9.85,0.27)(9.9,0.315)(9.95,0.20)
(10,0.20)(10.05,0.20)(10.1,0.20)(10.15,0.20)(10.2,0.23)(10.25,0.29)(10.3,0.315)(10.35,0.32)(10.4,0.36)(10.45,0.32)
(10.5,0.34)(10.55,0.36)(10.6,0.35)(10.65,0.37)(10.7,0.35)(10.75,0.41)(10.8,0.41)(10.85,0.44)(10.9,0.46)(10.95,0.44)
(11,0.47)(11.05,0.465)(11.1,0.44)(11.15,0.47)(11.2,0.51)(11.25,0.54)(11.3,0.60)(11.35,0.64)(11.4,0.67)(11.45,0.71)
(11.5,0.78)(11.55,0.72)(11.6,0.725)(11.65,0.76)(11.7,0.77)(11.75,0.82)(11.8,0.89)(11.85,0.93)(11.9,0.98)(11.95,1.02)(12,1.03)};
\addplot[gd] coordinates {(8,0.68)(8.05,0.62)(8.1,0.58)(8.15,0.62)(8.2,0.57)(8.25,0.55)(8.3,0.54)(8.35,0.58)(8.4,0.60)(8.45,0.56)
(8.5,0.59)(8.55,0.57)(8.6,0.54)(8.65,0.56)(8.7,0.52)(8.75,0.55)(8.8,0.57)(8.85,0.53)(8.9,0.55)(8.95,0.51)
(9,0.50)(9.05,0.45)(9.1,0.62)(9.15,0.71)(9.2,0.55)(9.25,0.40)(9.3,0.25)(9.35,0.14)(9.4,0.70)(9.45,0.64)
(9.5,1.02)(9.55,0.78)(9.6,0.74)(9.65,0.70)(9.7,1.06)(9.75,0.61)(9.8,0.66)(9.85,0.69)(9.9,0.72)(9.95,0.81)
(10,0.74)(10.05,0.72)(10.1,0.93)(10.15,0.69)(10.2,0.66)(10.25,0.80)(10.3,0.92)(10.35,0.92)(10.4,1.01)(10.45,0.91)
(10.5,0.91)(10.55,0.87)(10.6,0.90)(10.65,0.95)(10.7,1.02)(10.75,0.90)(10.8,1.13)(10.85,0.82)(10.9,1.02)(10.95,0.81)
(11,0.86)(11.05,0.80)(11.1,0.92)(11.15,0.88)(11.2,1.06)(11.25,0.90)(11.3,0.97)(11.35,1.05)(11.4,0.93)(11.45,1.00)
(11.5,1.07)(11.55,1.12)(11.6,1.35)(11.65,1.00)(11.7,0.90)(11.75,1.10)(11.8,1.25)(11.85,0.97)(11.9,1.08)(11.95,1.02)(12,1.05)};
\end{axis}
\end{tikzpicture}
\end{document}
